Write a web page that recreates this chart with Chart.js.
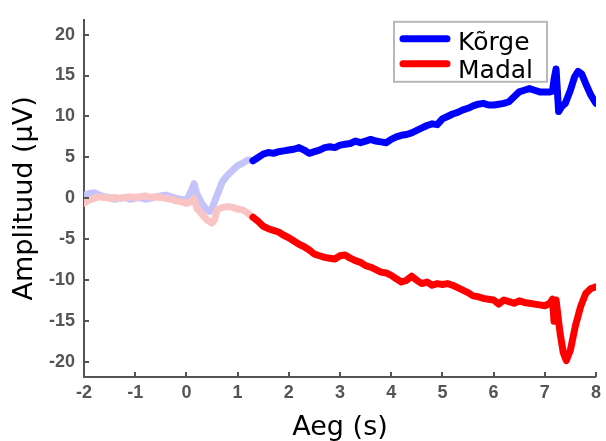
<!DOCTYPE html>
<html>
<head>
<meta charset="utf-8">
<script src="https://cdn.jsdelivr.net/npm/chart.js@4/dist/chart.umd.min.js"></script>
<style>
  html, body { margin: 0; padding: 0; background: #fff; }
  #wrap { width: 606px; height: 441px; }
</style>
</head>
<body>
<div id="wrap"><canvas id="c" width="606" height="441"></canvas></div>
<script>
// Time axis (s) and mean amplitude (µV) for the two conditions
const korgeTimes = [
  -2.0,-1.9,-1.8,-1.7,-1.6,-1.5,-1.4,-1.3,-1.2,-1.1,
  -1.0,-0.9,-0.8,-0.7,-0.6,-0.5,-0.4,-0.3,-0.2,-0.1,
  0.0,0.1,0.15,0.2,0.3,0.4,0.45,0.5,0.6,0.7,
  0.8,0.9,1.0,1.1,1.2,1.3,1.4,1.5,1.6,1.7,
  1.8,1.9,2.0,2.1,2.2,2.3,2.4,2.5,2.6,2.7,
  2.8,2.9,3.0,3.1,3.2,3.3,3.4,3.5,3.6,3.7,
  3.8,3.9,4.0,4.1,4.2,4.3,4.4,4.5,4.6,4.7,
  4.8,4.9,5.0,5.1,5.2,5.3,5.4,5.5,5.6,5.7,
  5.8,5.9,6.0,6.1,6.2,6.3,6.4,6.5,6.6,6.7,
  6.8,6.9,7.0,7.1,7.15,7.18,7.22,7.27,7.33,7.4,
  7.5,7.58,7.65,7.72,7.8,7.9,8.0
];
const korgeValues = [
  0.4,0.6,0.7,0.4,0.2,0.1,-0.1,0.0,0.1,-0.1,
  0.0,0.1,-0.1,0.0,0.2,0.3,0.4,0.2,0.0,-0.1,
  -0.3,1.0,1.8,0.6,-0.6,-1.4,-1.6,-1.2,0.4,2.0,
  2.8,3.4,4.0,4.3,4.7,4.6,5.0,5.4,5.6,5.5,
  5.7,5.8,5.9,6.0,6.2,5.9,5.5,5.7,5.9,6.2,
  6.3,6.2,6.5,6.6,6.7,7.0,6.8,7.0,7.2,7.0,
  6.9,6.8,7.2,7.5,7.7,7.8,8.0,8.3,8.6,8.9,
  9.1,9.0,9.7,10.0,10.3,10.5,10.8,11.0,11.3,11.5,
  11.6,11.4,11.4,11.5,11.6,11.8,12.4,13.0,13.2,13.4,
  13.2,13.0,13.0,13.0,13.1,14.5,15.8,10.6,11.2,11.6,
  13.2,14.8,15.5,15.2,14.0,12.6,11.6
];
const madalTimes = [
  -2.0,-1.9,-1.8,-1.7,-1.6,-1.5,-1.4,-1.3,-1.2,-1.1,
  -1.0,-0.9,-0.8,-0.7,-0.6,-0.5,-0.4,-0.3,-0.2,-0.1,
  0.0,0.1,0.15,0.2,0.3,0.4,0.5,0.55,0.6,0.7,
  0.8,0.9,1.0,1.1,1.2,1.3,1.4,1.5,1.6,1.7,
  1.8,1.9,2.0,2.1,2.2,2.3,2.4,2.5,2.6,2.7,
  2.8,2.9,3.0,3.1,3.2,3.3,3.4,3.5,3.6,3.7,
  3.8,3.9,4.0,4.1,4.2,4.3,4.4,4.5,4.6,4.7,
  4.8,4.9,5.0,5.1,5.2,5.3,5.4,5.5,5.6,5.7,
  5.8,5.9,6.0,6.1,6.2,6.3,6.4,6.5,6.6,6.7,
  6.8,6.9,7.0,7.1,
  7.15,7.18,7.22,7.26,7.3,7.36,7.42,7.5,7.6,7.7,
  7.8,7.9,8.0
];
const madalValues = [
  -0.6,-0.2,0.0,0.2,0.1,0.0,0.1,0.0,0.1,0.2,
  0.1,0.2,0.3,0.1,0.2,0.1,0.0,-0.1,-0.3,-0.4,
  -0.6,-0.4,0.0,-1.2,-1.9,-2.6,-3.0,-2.6,-1.4,-1.1,
  -1.0,-1.1,-1.3,-1.4,-1.8,-2.3,-2.8,-3.4,-3.7,-3.9,
  -4.1,-4.5,-4.8,-5.2,-5.6,-5.9,-6.3,-6.8,-7.0,-7.2,
  -7.3,-7.4,-7.0,-6.9,-7.3,-7.6,-7.8,-8.2,-8.4,-8.7,
  -9.0,-9.1,-9.4,-9.8,-10.2,-10.0,-9.5,-10.0,-10.4,-10.2,
  -10.6,-10.4,-10.5,-10.4,-10.6,-10.9,-11.2,-11.5,-11.9,-12.0,
  -12.2,-12.3,-12.4,-12.9,-12.4,-12.6,-12.8,-12.5,-12.7,-12.8,
  -12.9,-13.0,-13.1,-12.8,
  -12.3,-15.0,-12.4,-14.5,-16.5,-18.8,-19.8,-18.5,-15.5,-13.2,
  -11.6,-11.0,-10.8
];
const seriesLabels = ['Kõrge', 'Madal'];
const xTickValues = [-2,-1,0,1,2,3,4,5,6,7,8];
const yTickValues = [-20,-15,-10,-5,0,5,10,15,20];

// Before this time the traces are shown washed out
const fadeUntil = 1.25;

const toPoints = (ts, vs) => ts.map((t, i) => ({ x: t, y: vs[i] }));

// Small inward tick marks on both axes
const innerTicks = {
  id: 'innerTicks',
  afterDraw(chart) {
    const { ctx, chartArea, scales } = chart;
    ctx.save();
    ctx.strokeStyle = '#555';
    ctx.lineWidth = 2;
    ctx.beginPath();
    scales.x.ticks.forEach(t => {
      const px = Math.round(scales.x.getPixelForValue(t.value));
      ctx.moveTo(px, chartArea.bottom);
      ctx.lineTo(px, chartArea.bottom - 5);
    });
    scales.y.ticks.forEach(t => {
      const py = Math.round(scales.y.getPixelForValue(t.value));
      ctx.moveTo(chartArea.left, py);
      ctx.lineTo(chartArea.left + 5, py);
    });
    ctx.stroke();
    ctx.restore();
  }
};

// Boxed legend in the upper right of the plot
const boxLegend = {
  id: 'boxLegend',
  afterDraw(chart) {
    const { ctx, chartArea } = chart;
    const left = chartArea.right - 202, top = chartArea.top + 2;
    const w = 153, h = 60;
    ctx.save();
    ctx.fillStyle = '#fff';
    ctx.fillRect(left, top, w, h);
    ctx.strokeStyle = '#b8b8b8';
    ctx.lineWidth = 2;
    ctx.strokeRect(left, top, w, h);
    ctx.font = '25px "DejaVu Sans"';
    ctx.textBaseline = 'alphabetic';
    ctx.textAlign = 'left';
    chart.data.datasets.forEach((ds, i) => {
      const ly = top + 17 + i * 25;
      ctx.strokeStyle = ds.borderColor;
      ctx.lineWidth = 7;
      ctx.lineCap = 'round';
      ctx.beginPath();
      ctx.moveTo(left + 9, ly);
      ctx.lineTo(left + 53, ly);
      ctx.stroke();
      ctx.fillStyle = '#000';
      ctx.fillText(ds.label, left + 64, top + 28 + i * 28);
    });
    ctx.restore();
  }
};

const fadedColor = { '#0000ff': '#c4c4fa', '#ff0000': '#fac4c4' };

function makeDataset(label, pts, color, order) {
  return {
    label,
    data: pts,
    borderColor: color,
    borderWidth: 7,
    pointRadius: 0,
    tension: 0,
    borderJoinStyle: 'round',
    borderCapStyle: 'round',
    order,
    segment: {
      borderColor: c => (c.p0.parsed.x < fadeUntil ? fadedColor[color] : color)
    }
  };
}

const tickFont = { family: '"Liberation Sans", Arial', size: 18, weight: 'bold' };

new Chart(document.getElementById('c'), {
  type: 'line',
  data: {
    datasets: [
      makeDataset(seriesLabels[0], toPoints(korgeTimes, korgeValues), '#0000ff', 1),
      makeDataset(seriesLabels[1], toPoints(madalTimes, madalValues), '#ff0000', 0)
    ]
  },
  options: {
    responsive: false,
    animation: false,
    layout: { padding: { top: 13, right: 5, left: 0, bottom: 0 } },
    plugins: { legend: { display: false }, tooltip: { enabled: false } },
    scales: {
      x: {
        type: 'linear',
        min: -2, max: 8,
        afterBuildTicks: s => { s.ticks = xTickValues.map(v => ({ value: v })); },
        afterFit: s => { s.height = 64; },
        grid: { display: false, drawTicks: false },
        border: { display: true, color: '#555', width: 2 },
        ticks: {
          padding: 5,
          color: '#555',
          font: tickFont
        },
        title: {
          display: true,
          text: 'Aeg (s)',
          color: '#000',
          font: { family: '"DejaVu Sans"', size: 27, lineHeight: 1 },
          padding: { top: 0, bottom: 0 }
        }
      },
      y: {
        min: -21.8, max: 21.8,
        afterBuildTicks: s => { s.ticks = yTickValues.map(v => ({ value: v })); },
        afterFit: s => { s.width = 84; },
        grid: { display: false, drawTicks: false },
        border: { display: true, color: '#555', width: 2 },
        ticks: {
          padding: 9,
          color: '#555',
          font: tickFont
        },
        title: {
          display: true,
          text: 'Amplituud (µV)',
          color: '#000',
          font: { family: '"DejaVu Sans"', size: 27, lineHeight: 1 },
          padding: { top: 11, bottom: 0 }
        }
      }
    }
  },
  plugins: [innerTicks, boxLegend]
});
</script>
</body>
</html>
